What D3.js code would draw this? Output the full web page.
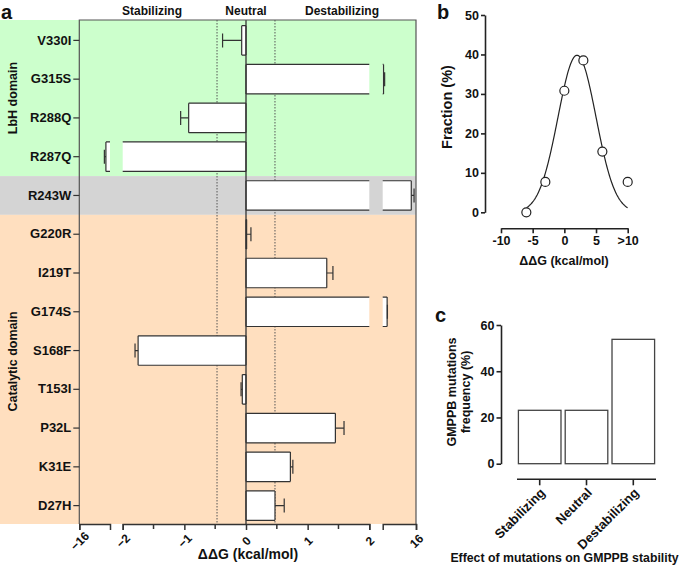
<!DOCTYPE html>
<html>
<head>
<meta charset="utf-8">
<script src="https://cdn.jsdelivr.net/npm/d3@7"></script>
<style>
body { margin: 0; background: #fff; }
svg text { font-family: "Liberation Sans", Arial, sans-serif; font-weight: bold; fill: #111; }
</style>
</head>
<body>
<div id="chart"></div>
<script>
var width = 685;
var height = 572;

// ---- panel a : ddG per mutation
var mutations = ["V330I", "G315S", "R288Q", "R287Q", "R243W", "G220R", "I219T",
  "G174S", "S168F", "T153I", "P32L", "K31E", "D27H"];
var ddg = [-0.07, 10.15, -0.93, -10.8, 15.15, 0.01, 1.31, 10.8, -1.75, -0.06, 1.45, 0.72, 0.47];
var ddgErr = [0.31, 0.2, 0.13, 0.3, 0.5, 0.07, 0.1, 0.05, 0.05, 0.02, 0.14, 0.04, 0.15];
var domainNames = ["LbH domain", "", "Catalytic domain"];
var domainRows = [4, 1, 8];
var domainColors = ["#ccffcc", "#d4d4d4", "#ffdfbf"];
var effectNames = ["Stabilizing", "Neutral", "Destabilizing"];
var neutralCut = 0.47;

// ---- panel b : distribution of ddG
var binCentres = [-6, -3, 0, 3, 6, 10];
var binFraction = [0, 7.7, 30.8, 38.5, 15.4, 7.7];
var gaussFit = [39.8, 2.0, 3.0]; // amplitude, mean, sd of the fitted curve

// ---- panel c : frequency per effect
var effectFreq = [23.1, 23.1, 53.8];

var svg = d3.select("#chart").append("svg")
  .attr("width", width)
  .attr("height", height);

var ink = "#333";

/* ================= panel a ================= */
var plotTop = 20, plotBottom = 524, plotLeft = 79.3, plotRight = 416;

// broken x axis: three linear pieces
var xL = d3.scaleLinear().domain([-16, -10]).range([79.3, 110]);
var xM = d3.scaleLinear().domain([-2, 2]).range([122.7, 369.3]);
var xR = d3.scaleLinear().domain([10, 16]).range([382.7, 416]);

var ya = d3.scaleBand().domain(mutations).range([21, 525])
  .paddingInner(0.24).paddingOuter(0.12);
var step = ya.step();

// domain backgrounds
var rowStart = 0;
domainRows.forEach(function(n, i) {
  var y0 = i == 0 ? plotTop : 21 + rowStart * step;
  var y1 = i == domainRows.length - 1 ? plotBottom : 21 + (rowStart + n) * step;
  svg.append("rect")
    .attr("x", 0).attr("y", y0)
    .attr("width", plotRight).attr("height", y1 - y0)
    .attr("fill", domainColors[i]);
  if (domainNames[i]) {
    var cy = (y0 + y1) / 2 + (i == 2 ? -8 : 0);
    svg.append("text")
      .attr("transform", "translate(17,"  + cy + ") rotate(-90)")
      .attr("text-anchor", "middle")
      .style("font-size", "12.5px")
      .text(domainNames[i]);
  }
  rowStart += n;
});

// dotted neutral limits
[-neutralCut, neutralCut].forEach(function(v) {
  svg.append("line")
    .attr("x1", xM(v)).attr("x2", xM(v))
    .attr("y1", plotTop).attr("y2", plotBottom)
    .attr("stroke", "#555").attr("stroke-width", 1)
    .attr("stroke-dasharray", "1.5,1.5");
});

// bars, split at the axis breaks
function barPiece(g, a, b, y0, y1, closeA, closeB) {
  var x0 = Math.min(a, b), x1 = Math.max(a, b);
  g.append("rect")
    .attr("x", x0).attr("y", y0)
    .attr("width", x1 - x0).attr("height", y1 - y0)
    .attr("fill", "#fff");
  var p = "M" + a + "," + y0 + "H" + b + "M" + a + "," + y1 + "H" + b;
  if (closeA) p += "M" + a + "," + y0 + "V" + y1;
  if (closeB) p += "M" + b + "," + y0 + "V" + y1;
  g.append("path").attr("d", p)
    .attr("fill", "none").attr("stroke", ink).attr("stroke-width", 1.2);
}

var bars = svg.append("g");
mutations.forEach(function(m, i) {
  var v = ddg[i], e = ddgErr[i];
  var y0 = ya(m), y1 = ya(m) + ya.bandwidth(), cy = y0 + ya.bandwidth() / 2;
  var end, errEnd;
  if (v > 2) {
    barPiece(bars, xM(0), xM(2), y0, y1, true, false);
    barPiece(bars, xR(10), xR(v), y0, y1, false, true);
    end = xR(v); errEnd = xR(v + e);
  } else if (v < -2) {
    barPiece(bars, xM(0), xM(-2), y0, y1, true, false);
    barPiece(bars, xL(-10), xL(v), y0, y1, false, true);
    end = xL(v); errEnd = xL(v - e);
  } else {
    barPiece(bars, xM(0), xM(v), y0, y1, true, true);
    end = xM(v); errEnd = xM(v >= 0 ? v + e : v - e);
  }
  bars.append("path")
    .attr("d", "M" + end + "," + cy + "H" + errEnd + "M" + errEnd + "," + (cy - 7) + "V" + (cy + 7))
    .attr("fill", "none").attr("stroke", ink).attr("stroke-width", 1.2);
});

// zero line and frame
svg.append("line")
  .attr("x1", xM(0)).attr("x2", xM(0)).attr("y1", plotTop).attr("y2", plotBottom)
  .attr("stroke", ink).attr("stroke-width", 1.3);
svg.append("path")
  .attr("d", "M" + plotLeft + "," + plotBottom + "V" + plotTop + "H" + plotRight + "V" + plotBottom)
  .attr("fill", "none").attr("stroke", "#555").attr("stroke-width", 1.2);

// y axis labels
var yAxisA = svg.append("g")
  .attr("transform", "translate(" + plotLeft + ",0)")
  .call(d3.axisLeft(ya).tickSize(6).tickPadding(2));
yAxisA.select(".domain").remove();
yAxisA.selectAll("line").attr("stroke", ink).attr("stroke-width", 1.2);
yAxisA.selectAll("text").style("font-size", "13px").attr("fill", "#111");

// broken x axis
function xPiece(scale, vals, minor) {
  var g = svg.append("g")
    .attr("transform", "translate(0," + plotBottom + ")")
    .call(d3.axisBottom(scale).tickValues(vals).tickSize(6).tickSizeOuter(6)
      .tickFormat(function(d) { return d3.format("d")(d); }));
  g.selectAll("path,line").attr("stroke", ink).attr("stroke-width", 1.5);
  g.selectAll("text")
    .attr("y", 0).attr("dy", "0.35em")
    .attr("transform", "translate(0,17) rotate(-45)")
    .attr("text-anchor", "middle")
    .attr("fill", "#111")
    .style("font-size", "12px");
  if (minor) {
    g.selectAll(".minor").data(minor).enter().append("line")
      .attr("x1", scale).attr("x2", scale)
      .attr("y1", 0).attr("y2", 5)
      .attr("stroke", ink).attr("stroke-width", 1.5);
  }
}
xPiece(xL, [-16]);
xPiece(xM, [-2, -1, 0, 1, 2], [-1.5, -0.5, 0.5, 1.5]);
xPiece(xR, [16]);

svg.append("text")
  .attr("x", 248).attr("y", 559)
  .attr("text-anchor", "middle")
  .style("font-size", "14px")
  .text("ΔΔG (kcal/mol)");

// header
var headerX = [152, 246, 342];
effectNames.forEach(function(t, i) {
  svg.append("text")
    .attr("x", headerX[i]).attr("y", 15)
    .attr("text-anchor", "middle")
    .style("font-size", "12px")
    .text(t);
});

/* ================= panel b ================= */
var xb = d3.scaleLinear().domain([-10, 10]).range([501, 627.7]);
var yb = d3.scaleLinear().domain([0, 50]).range([212.3, 15]);

var yAxisB = svg.append("g")
  .attr("transform", "translate(485,0)")
  .call(d3.axisLeft(yb).tickValues([0, 10, 20, 30, 40, 50]).tickSize(4).tickSizeOuter(0).tickPadding(2));
var xAxisB = svg.append("g")
  .attr("transform", "translate(0,228.3)")
  .call(d3.axisBottom(xb).tickValues([-10, -5, 0, 5, 10]).tickSize(5).tickSizeOuter(0).tickPadding(3)
    .tickFormat(function(d) { return d == 10 ? ">10" : d; }));
[yAxisB, xAxisB].forEach(function(g) {
  g.selectAll("path,line").attr("stroke", "#222").attr("stroke-width", 1.6);
  g.selectAll("text").attr("fill", "#111").style("font-size", "12.5px");
});

var curve = d3.range(-6, 10.01, 0.1).map(function(x) {
  var z = (x - gaussFit[1]) / gaussFit[2];
  return [x, gaussFit[0] * Math.exp(-0.5 * z * z)];
});
svg.append("path")
  .datum(curve)
  .attr("d", d3.line().x(function(d) { return xb(d[0]); }).y(function(d) { return yb(d[1]); }))
  .attr("fill", "none").attr("stroke", "#222").attr("stroke-width", 1.2);

svg.selectAll(".pt").data(binCentres).enter().append("circle")
  .attr("cx", function(d) { return xb(d); })
  .attr("cy", function(d, i) { return yb(binFraction[i]); })
  .attr("r", 4.5)
  .attr("fill", "#fff").attr("stroke", "#222").attr("stroke-width", 1.2);

svg.append("text")
  .attr("transform", "translate(452,107) rotate(-90)")
  .attr("text-anchor", "middle")
  .style("font-size", "14.5px")
  .text("Fraction (%)");
svg.append("text")
  .attr("x", 564).attr("y", 265)
  .attr("text-anchor", "middle")
  .style("font-size", "12.5px")
  .text("ΔΔG (kcal/mol)");

/* ================= panel c ================= */
var xc = d3.scaleBand().domain(effectNames).range([517, 656])
  .paddingInner(0.09).paddingOuter(0.03);
var yc = d3.scaleLinear().domain([0, 60]).range([463.7, 325]);

svg.selectAll(".cbar").data(effectNames).enter().append("rect")
  .attr("x", function(d) { return xc(d); })
  .attr("y", function(d, i) { return yc(effectFreq[i]); })
  .attr("width", xc.bandwidth())
  .attr("height", function(d, i) { return yc(0) - yc(effectFreq[i]); })
  .attr("fill", "#fff").attr("stroke", "#444").attr("stroke-width", 1.3);

var yAxisC = svg.append("g")
  .attr("transform", "translate(501,0)")
  .call(d3.axisLeft(yc).tickValues([0, 20, 40, 60]).tickSize(4.5).tickSizeOuter(0).tickPadding(2));
var xAxisC = svg.append("g")
  .attr("transform", "translate(0,479.3)")
  .call(d3.axisBottom(xc).tickSize(6).tickSizeOuter(0));
[yAxisC, xAxisC].forEach(function(g) {
  g.selectAll("path,line").attr("stroke", "#222").attr("stroke-width", 1.6);
  g.selectAll("text").attr("fill", "#111").style("font-size", "12.5px");
});
xAxisC.select(".domain").attr("d", "M517,0H656");
xAxisC.selectAll("text")
  .attr("y", 0).attr("dy", "0.35em")
  .attr("transform", "translate(3,11) rotate(-45)")
  .attr("text-anchor", "end")
  .style("font-size", "13px");

var yTitle = svg.append("text")
  .attr("transform", "translate(456,392) rotate(-90)")
  .attr("text-anchor", "middle")
  .style("font-size", "12.5px");
yTitle.append("tspan").attr("x", 0).attr("dy", 0).text("GMPPB mutations");
yTitle.append("tspan").attr("x", 0).attr("dy", 14).text("frequency (%)");

svg.append("text")
  .attr("x", 564.5).attr("y", 562)
  .attr("text-anchor", "middle")
  .style("font-size", "12.3px")
  .text("Effect of mutations on GMPPB stability");

// panel letters
[["a", 1, 19], ["b", 437, 19], ["c", 435, 322]].forEach(function(p) {
  svg.append("text")
    .attr("x", p[1]).attr("y", p[2])
    .style("font-size", "20px")
    .text(p[0]);
});
</script>
</body>
</html>
